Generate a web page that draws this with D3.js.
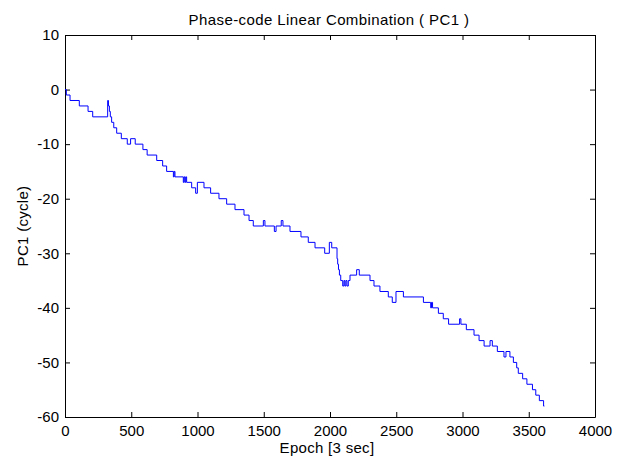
<!DOCTYPE html>
<html>
<head>
<meta charset="utf-8">
<script src="https://cdn.jsdelivr.net/npm/d3@7"></script>
<style>
  html, body { margin: 0; padding: 0; background: #ffffff; }
  svg { display: block; }
  text { font-family: "Liberation Sans", Arial, sans-serif; fill: #000; }
</style>
</head>
<body>
<script>
// ---- data (step series: value holds from epoch until the next epoch) ----
const epochs = [0, 10, 38, 108, 174, 209, 322, 328, 335, 342, 352, 368, 390, 425, 470, 495, 530, 588, 620, 692,
  737, 767, 818, 824, 830, 893, 899, 905, 911, 918, 956, 986, 999, 1049, 1099, 1162, 1220, 1283, 1351, 1389,
  1421, 1497, 1509, 1580, 1593, 1632, 1645, 1698, 1781, 1836, 1887, 1960, 1995, 2013, 2053, 2058, 2064, 2071, 2081, 2096,
  2105, 2112, 2120, 2128, 2138, 2151, 2201, 2221, 2302, 2332, 2377, 2440, 2470, 2498, 2554, 2705, 2760, 2766, 2774, 2818,
  2855, 2895, 2978, 2988, 3029, 3087, 3125, 3163, 3208, 3225, 3263, 3313, 3328, 3358, 3384, 3409, 3421, 3454, 3486, 3528,
  3553, 3580, 3612, 3618];
const pc1 = [0, -1, -2, -3, -4, -5, -2, -3, -4, -5, -6, -7, -8, -9, -10, -9, -10, -11, -12, -13,
  -14, -15, -16, -15, -16, -17, -16, -17, -16, -17, -18, -19, -17, -18, -19, -20, -21, -22, -23, -24,
  -25, -24, -25, -26, -25, -24, -25, -26, -27, -28, -29, -30, -28, -29, -31, -32, -33, -34, -35, -36,
  -35, -36, -35, -36, -35, -34, -33, -34, -35, -36, -37, -38, -39, -37, -38, -39, -40, -39, -40, -41,
  -42, -43, -42, -43, -44, -45, -46, -47, -46, -47, -48, -49, -48, -49, -50, -51, -52, -53, -54, -55,
  -56, -57, -58, -58];
const xTicks = [0, 500, 1000, 1500, 2000, 2500, 3000, 3500, 4000];
const yTicks = [10, 0, -10, -20, -30, -40, -50, -60];
const titleText = "Phase-code Linear Combination ( PC1 )";
const xLabel = "Epoch [3 sec]";
const yLabel = "PC1 (cycle)";

// ---- layout ----
const W = 619, H = 459;
const L = 65, R = 595, T = 35, B = 417;

const svg = d3.select("body").append("svg").attr("width", W).attr("height", H);

const x = d3.scaleLinear().domain([0, 4000]).range([L, R]);
const y = d3.scaleLinear().domain([-60, 10]).range([B, T]);

const fs = 15;
const fmt = d => String(d);  // plain hyphen-minus like the reference

// axes (ticks inside, mirrored)
const gB = svg.append("g").attr("transform", `translate(0,${B})`)
  .call(d3.axisBottom(x).tickValues(xTicks).tickSize(-5).tickSizeOuter(0).tickPadding(8).tickFormat(fmt));
const gT = svg.append("g").attr("transform", `translate(0,${T})`)
  .call(d3.axisTop(x).tickValues(xTicks).tickSize(-5).tickSizeOuter(0).tickFormat(""));
const gL = svg.append("g").attr("transform", `translate(${L},0)`)
  .call(d3.axisLeft(y).tickValues(yTicks).tickSize(-5).tickSizeOuter(0).tickPadding(6).tickFormat(fmt));
const gR = svg.append("g").attr("transform", `translate(${R},0)`)
  .call(d3.axisRight(y).tickValues(yTicks).tickSize(-5).tickSizeOuter(0).tickFormat(""));

[gB, gT, gL, gR].forEach(g => {
  g.selectAll("path.domain").attr("stroke", "#000").attr("stroke-width", 1);
  g.selectAll(".tick line").attr("stroke", "#000");
  g.selectAll(".tick text").attr("font-size", fs).attr("font-family", "Liberation Sans, Arial, sans-serif").attr("fill", "#111");
});

// line
const pts = epochs.map((e, i) => [e, pc1[i]]);
const line = d3.line().x(d => x(d[0])).y(d => y(d[1])).curve(d3.curveStepAfter);
svg.append("path").datum(pts)
  .attr("d", line)
  .attr("fill", "none")
  .attr("stroke", "#0000ff")
  .attr("stroke-width", 1);

// title & labels
svg.append("text").attr("x", (L + R) / 2 - 1).attr("y", 25).attr("text-anchor", "middle")
  .attr("font-size", fs).attr("letter-spacing", "0.4px").text(titleText);
svg.append("text").attr("x", (L + R) / 2 - 3).attr("y", 453).attr("text-anchor", "middle")
  .attr("font-size", fs).attr("letter-spacing", "0.3px").text(xLabel);
svg.append("text").attr("transform", `translate(28,${(T + B) / 2}) rotate(-90)`).attr("text-anchor", "middle")
  .attr("font-size", fs).attr("letter-spacing", "0.3px").text(yLabel);
</script>
</body>
</html>
